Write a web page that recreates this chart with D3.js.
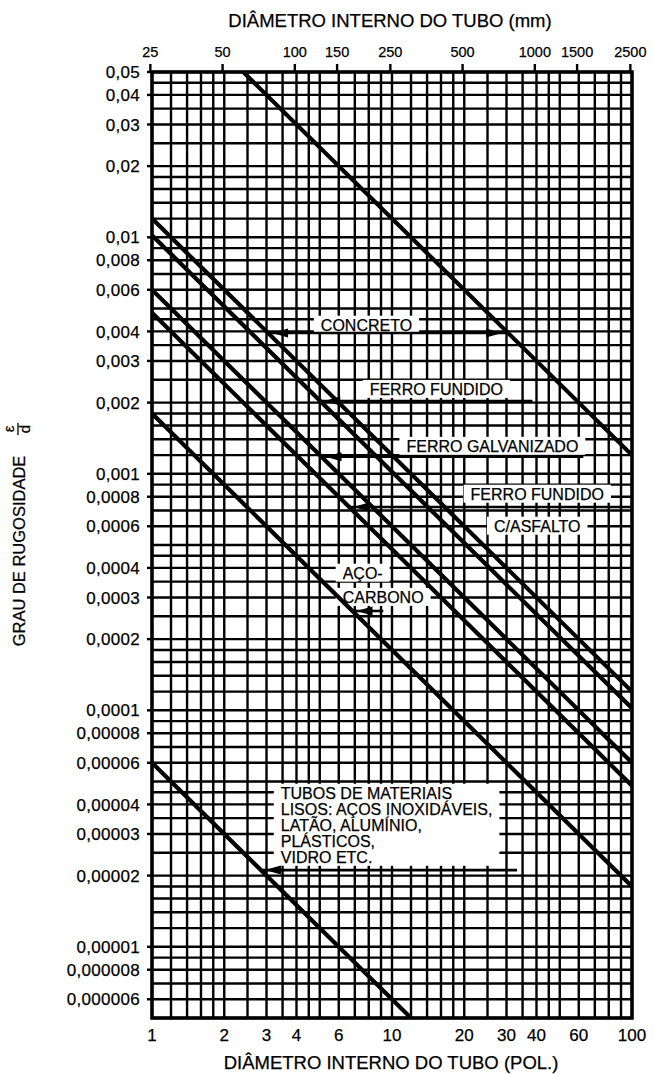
<!DOCTYPE html>
<html>
<head>
<meta charset="utf-8">
<script src="https://cdn.jsdelivr.net/npm/d3@7"></script>
<style>
  body { margin: 0; background: #fff; }
  svg { display: block; }
  text { font-family: "Liberation Sans", Arial, Helvetica, sans-serif; fill: #000;
         stroke: #000; stroke-width: 0.25px; }
</style>
</head>
<body>
<svg id="chart" width="654" height="1074"></svg>
<script>
// Relative roughness (ε/d) of pipe walls versus internal diameter.

// Bottom axis: internal diameter in inches
const diameterTicksIn = [1, 2, 3, 4, 6, 10, 20, 30, 40, 60, 100];
// Top axis: internal diameter in millimetres
const diameterTicksMm = [25, 50, 100, 150, 250, 500, 1000, 1500, 2500];
// Left axis: relative roughness ticks and their printed labels
const roughnessTicks = [0.05, 0.04, 0.03, 0.02, 0.01, 0.008, 0.006, 0.004, 0.003, 0.002,
  0.001, 0.0008, 0.0006, 0.0004, 0.0003, 0.0002, 0.0001, 0.00008, 0.00006, 0.00004,
  0.00003, 0.00002, 0.00001, 0.000008, 0.000006];
const roughnessTickLabels = ["0,05", "0,04", "0,03", "0,02", "0,01", "0,008", "0,006",
  "0,004", "0,003", "0,002", "0,001", "0,0008", "0,0006", "0,0004", "0,0003", "0,0002",
  "0,0001", "0,00008", "0,00006", "0,00004", "0,00003", "0,00002", "0,00001",
  "0,000008", "0,000006"];

// Absolute roughness ε (inches) of each material line: ε/d = ε / D
const materials = ["Concreto (máx.)", "Concreto (mín.)", "Ferro fundido", "Ferro galvanizado",
  "Ferro fundido c/asfalto", "Aço-carbono", "Tubos lisos"];
const absoluteRoughnessIn = [0.12, 0.012, 0.0102, 0.006, 0.0048, 0.0018, 0.00006];

// Sub-divisions of each decade used for the grid
const gridMantissas = [1, 1.2, 1.4, 1.6, 1.8, 2, 2.5, 3, 3.5, 4, 4.5, 5, 6, 7, 8, 9];

// Callout texts, placed in chart units (diameter in inches, ε/d)
const callouts = [
  { lines: ["CONCRETO"], d: 7.83, e: 0.00426, anchor: "middle" },
  { lines: ["FERRO FUNDIDO"], d: 15.3, e: 0.00228, anchor: "middle" },
  { lines: ["FERRO GALVANIZADO"], d: 26.2, e: 0.00131, anchor: "middle" },
  { lines: ["FERRO FUNDIDO"], d: 40.3, e: 0.000822, anchor: "middle" },
  { lines: ["C/ASFALTO"], d: 40.3, e: 0.000602, anchor: "middle" },
  { lines: ["AÇO-"], d: 6.23, e: 0.000381, anchor: "start" },
  { lines: ["CARBONO"], d: 6.23, e: 0.000301, anchor: "start" },
  { lines: ["TUBOS DE MATERIAIS", "LISOS: AÇOS INOXIDÁVEIS,", "LATÃO, ALUMÍNIO,",
            "PLÁSTICOS,", "VIDRO ETC."], d: 3.44, e: 0.0000447, anchor: "start" }
];

// Leader lines from a callout to its material line(s)
const leaders = [
  { e: 0.00394, fromEps: 0.012, toEps: 0.12, arrowStart: true, arrowEnd: true },
  { e: 0.00203, fromEps: 0.0102, toD: 38.5, arrowStart: true },
  { e: 0.00118, fromEps: 0.006, toD: 62.7, arrowStart: true },
  { e: 0.000724, fromEps: 0.0048, toD: 100, arrowStart: true },
  { e: 0.000263, fromEps: 0.0018, toD: 9.2, arrowStart: true },
  { e: 0.0000211, fromEps: 0.00006, toD: 33.2, arrowStart: true }
];

(function draw() {
  const svg = d3.select("#chart");
  const plotLeft = 152, plotRight = 632, plotTop = 72, plotBottom = 1018;

  const x = d3.scaleLog().domain([1, 100]).range([plotLeft, plotRight]);
  const y = d3.scaleLog().domain([0.000005, 0.05]).range([plotBottom, plotTop]);
  const xMm = mm => x(mm / 25.4);

  svg.append("defs").append("clipPath").attr("id", "plot-clip")
    .append("rect").attr("x", plotLeft).attr("y", plotTop)
    .attr("width", plotRight - plotLeft).attr("height", plotBottom - plotTop);

  // ---- grid ----
  const xGrid = [];
  [1, 10].forEach(dec => gridMantissas.forEach(m => xGrid.push(+(dec * m).toPrecision(6))));
  xGrid.push(100);
  const yGrid = [];
  [1e-6, 1e-5, 1e-4, 1e-3, 1e-2].forEach(dec => gridMantissas.forEach(m => {
    const v = +(dec * m).toPrecision(6);
    if (v >= 0.000005 && v <= 0.05) yGrid.push(v);
  }));

  const grid = svg.append("g").attr("stroke", "#000").attr("stroke-width", 2.4);
  grid.selectAll(".vg").data(xGrid).join("line").attr("class", "vg")
    .attr("x1", d => x(d)).attr("x2", d => x(d)).attr("y1", plotTop).attr("y2", plotBottom);
  grid.selectAll(".hg").data(yGrid).join("line").attr("class", "hg")
    .attr("y1", d => y(d)).attr("y2", d => y(d)).attr("x1", plotLeft).attr("x2", plotRight);

  // short ticks outside the frame
  grid.selectAll(".lt").data(roughnessTicks).join("line").attr("class", "lt")
    .attr("y1", d => y(d)).attr("y2", d => y(d)).attr("x1", plotLeft - 5).attr("x2", plotLeft);
  grid.selectAll(".tt").data(diameterTicksMm).join("line").attr("class", "tt")
    .attr("x1", d => xMm(d)).attr("x2", d => xMm(d)).attr("y1", plotTop - 8).attr("y2", plotTop);

  // ---- callout backgrounds and texts ----
  const calloutG = svg.append("g");
  const lineStep = 16;
  callouts.forEach(c => {
    const g = calloutG.append("g");
    const t = g.append("text")
      .attr("font-size", 16)
      .attr("text-anchor", c.anchor);
    c.lines.forEach((ln, i) => {
      t.append("tspan").attr("x", x(c.d)).attr("y", y(c.e) + i * lineStep)
        .attr("dy", "0.36em").text(ln);
    });
    const bb = t.node().getBBox();
    g.insert("rect", "text")
      .attr("x", bb.x - 7).attr("y", bb.y - 1)
      .attr("width", bb.width + 14).attr("height", bb.height + 1)
      .attr("fill", "#fff");
  });

  // ---- frame ----
  svg.append("rect").attr("x", plotLeft).attr("y", plotTop)
    .attr("width", plotRight - plotLeft).attr("height", plotBottom - plotTop)
    .attr("fill", "none").attr("stroke", "#000").attr("stroke-width", 3.5);

  // ---- material lines ----
  const line = d3.line().x(p => x(p[0])).y(p => y(p[1]));
  svg.append("g").attr("clip-path", "url(#plot-clip)")
    .selectAll("path").data(absoluteRoughnessIn).join("path")
    .attr("d", eps => line([[1, eps / 1], [100, eps / 100]]))
    .attr("fill", "none").attr("stroke", "#000").attr("stroke-width", 4.2);

  // ---- leaders with arrowheads ----
  const arrow = "M0,0 L16,-4.5 L16,4.5 Z";
  const leaderG = svg.append("g");
  leaders.forEach(l => {
    const d0 = l.fromEps / l.e;
    const d1 = l.toEps ? l.toEps / l.e : l.toD;
    const ly = y(l.e);
    const x0 = x(d0), x1 = Math.min(x(d1), plotRight);
    leaderG.append("line").attr("x1", x0).attr("x2", x1).attr("y1", ly).attr("y2", ly)
      .attr("stroke", "#000").attr("stroke-width", 2.6);
    if (l.arrowStart) {
      leaderG.append("path").attr("d", arrow)
        .attr("transform", `translate(${x0 + 4},${ly})`).attr("fill", "#000");
    }
    if (l.arrowEnd) {
      leaderG.append("path").attr("d", arrow)
        .attr("transform", `translate(${x1 - 6},${ly}) scale(-1,1)`).attr("fill", "#000");
    }
  });

  // ---- axis labels ----
  svg.append("g").selectAll("text").data(roughnessTicks).join("text")
    .attr("x", plotLeft - 12).attr("y", d => y(d)).attr("dy", "0.36em")
    .attr("text-anchor", "end").attr("font-size", 17).attr("letter-spacing", 0.3)
    .text((d, i) => roughnessTickLabels[i]);

  svg.append("g").selectAll("text").data(diameterTicksIn).join("text")
    .attr("x", d => x(d)).attr("y", plotBottom + 17).attr("dy", "0.36em")
    .attr("text-anchor", "middle").attr("font-size", 17)
    .text(d => d);

  svg.append("g").selectAll("text").data(diameterTicksMm).join("text")
    .attr("x", d => xMm(d)).attr("y", plotTop - 20).attr("dy", "0.36em")
    .attr("text-anchor", "middle").attr("font-size", 14.5)
    .text(d => d);

  svg.append("text").attr("x", 390).attr("y", 20).attr("dy", "0.36em")
    .attr("text-anchor", "middle").attr("font-size", 18.5)
    .text("DIÂMETRO INTERNO DO TUBO (mm)");

  svg.append("text").attr("x", 391).attr("y", 1062).attr("dy", "0.36em")
    .attr("text-anchor", "middle").attr("font-size", 18.5)
    .text("DIÂMETRO INTERNO DO TUBO (POL.)");

  // vertical axis title with the ε/d fraction
  const yt = svg.append("g").attr("transform", "translate(19,551) rotate(-90)");
  yt.append("text").attr("x", 0).attr("y", 0).attr("dy", "0.36em")
    .attr("text-anchor", "middle").attr("font-size", 16.5)
    .text("GRAU DE RUGOSIDADE");
  yt.append("text").attr("x", 122).attr("y", -5).attr("text-anchor", "middle")
    .attr("font-size", 15).text("ε");
  yt.append("line").attr("x1", 116).attr("x2", 128).attr("y1", -1).attr("y2", -1)
    .attr("stroke", "#000").attr("stroke-width", 1.3);
  yt.append("text").attr("x", 122).attr("y", 11).attr("text-anchor", "middle")
    .attr("font-size", 15).text("d");
})();
</script>
</body>
</html>
